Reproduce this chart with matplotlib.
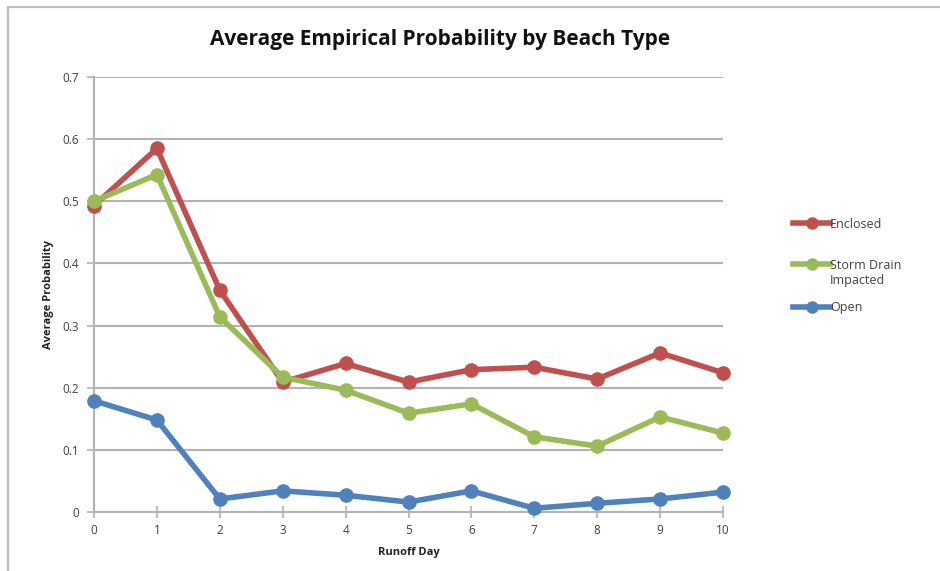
import matplotlib
matplotlib.use("Agg")
import matplotlib.pyplot as plt
from matplotlib.lines import Line2D
from matplotlib.patches import Rectangle

# Runoff day on the x axis
days = [0, 1, 2, 3, 4, 5, 6, 7, 8, 9, 10]

# Average empirical probability per beach type
enclosed = [0.493, 0.585, 0.357, 0.209, 0.239, 0.209, 0.229, 0.233, 0.214, 0.256, 0.224]
storm_drain = [0.500, 0.543, 0.314, 0.217, 0.196, 0.159, 0.174, 0.121, 0.106, 0.153, 0.127]
open_beach = [0.179, 0.148, 0.021, 0.034, 0.027, 0.016, 0.034, 0.006, 0.014, 0.021, 0.032]

series_labels = ["Enclosed", "Storm Drain\nImpacted", "Open"]
y_ticks = [0, 0.1, 0.2, 0.3, 0.4, 0.5, 0.6, 0.7]
y_tick_labels = ["0", "0.1", "0.2", "0.3", "0.4", "0.5", "0.6", "0.7"]

RED = "#C0504D"
GREEN = "#9BBB59"
BLUE = "#4F81BD"
GRID = "#B3B3B3"
TXT = "#404040"

plt.rcParams["font.family"] = ["Open Sans", "DejaVu Sans"]

W, H = 940, 571
fig = plt.figure(figsize=(W / 100, H / 100), dpi=100)
fig.patch.set_facecolor("white")

# outer chart frame (top and left edges visible)
fig.patches.append(Rectangle((8 / W, -0.05), 1.2, (H - 7) / H + 0.05,
                             transform=fig.transFigure, fill=False,
                             edgecolor="#BDBDBD", linewidth=1.6))

ax = fig.add_axes([94 / W, (H - 512) / H, (723 - 94) / W, (512 - 77) / H])
ax.set_xlim(0, 10)
ax.set_ylim(0, 0.7)

for s in ["top", "right"]:
    ax.spines[s].set_visible(False)
for s in ["left", "bottom"]:
    ax.spines[s].set_color(GRID)
    ax.spines[s].set_linewidth(1.5)

ax.set_yticks(y_ticks)
ax.set_yticklabels(y_tick_labels)
ax.set_xticks(days)
ax.set_xticklabels([str(d) for d in days])
ax.tick_params(axis="y", length=5, width=1.2, color=GRID, labelsize=8.5,
               labelcolor=TXT, pad=6)
ax.tick_params(axis="x", direction="inout", length=8, width=1.2, color=GRID,
               labelsize=8.5, labelcolor=TXT, pad=5)
ax.grid(axis="y", color=GRID, linewidth=1.5)
ax.set_axisbelow(True)

line_kw = dict(linewidth=4, marker="o", markersize=9.5, clip_on=False, zorder=3)
l_enc, = ax.plot(days, enclosed, color=RED, **line_kw)
l_sd, = ax.plot(days, storm_drain, color=GREEN, **line_kw)
l_open, = ax.plot(days, open_beach, color=BLUE, **line_kw)

ax.set_xlabel("Runoff Day", fontsize=8, fontweight="bold", color="#222222", labelpad=7)
ax.set_ylabel("Average Probability", fontsize=8, fontweight="bold", color="#222222", labelpad=6)

fig.text(440 / W, 1 - 40 / H, "Average Empirical Probability by Beach Type",
         ha="center", va="center", fontsize=15, fontweight="bold", color="#111111")

# legend drawn in figure coordinates
legend_rows = [(223, l_enc, series_labels[0], 224),
               (264, l_sd, series_labels[1], 273),
               (307, l_open, series_labels[2], 307)]
for y_line, ln, label, y_text in legend_rows:
    yf = 1 - y_line / H
    fig.add_artist(Line2D([793 / W, 830 / W], [yf, yf], transform=fig.transFigure,
                          color=ln.get_color(), linewidth=4))
    fig.add_artist(Line2D([811.5 / W], [yf], transform=fig.transFigure,
                          color=ln.get_color(), marker="o", markersize=8))
    fig.text(830 / W, 1 - y_text / H, label, ha="left", va="center",
             fontsize=9, color=TXT, linespacing=1.2)

fig.savefig("out.png", dpi=100, facecolor="white")
